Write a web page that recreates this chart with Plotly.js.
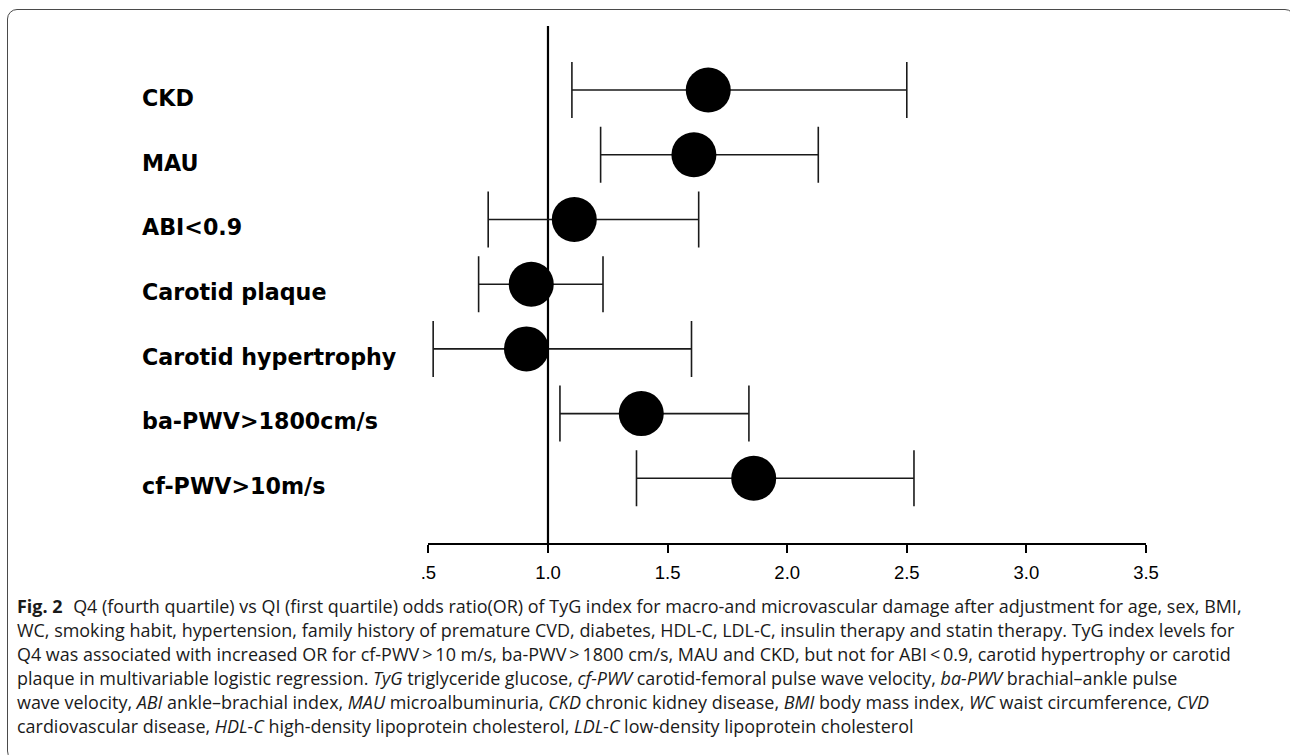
<!DOCTYPE html>
<html>
<head>
<meta charset="utf-8">
<script src="https://cdn.plot.ly/plotly-3.0.1.min.js"></script>
<style>
  html, body { margin: 0; padding: 0; background: #fff; }
  #wrap { position: relative; width: 1290px; height: 755px; overflow: hidden; }
  #chart { position: absolute; left: 0; top: 0; width: 1290px; height: 755px; }
  #frame { position: absolute; left: 7px; top: 9px; width: 1288px; height: 752px;
           border: 1.5px solid #4a4a4a; border-radius: 10px; box-sizing: border-box; pointer-events: none; }
  #caption { position: absolute; left: 17px; top: 594px; font-family: "Open Sans", Lato, sans-serif;
             font-size: 17.95px; line-height: 24px; color: #1a1a1a; white-space: nowrap; }
  #caption b { font-weight: 700; margin-right: 6px; }
</style>
</head>
<body>
<div id="wrap">
  <div id="chart"></div>
  <div id="frame"></div>
  <div id="caption">
    <b>Fig. 2</b> Q4 (fourth quartile) vs QI (first quartile) odds ratio(OR) of TyG index for macro-and microvascular damage after adjustment for age, sex, BMI,<br>
    WC, smoking habit, hypertension, family history of premature CVD, diabetes, HDL-C, LDL-C, insulin therapy and statin therapy. TyG index levels for<br>
    Q4 was associated with increased OR for cf-PWV&#8201;&gt;&#8201;10 m/s, ba-PWV&#8201;&gt;&#8201;1800 cm/s, MAU and CKD, but not for ABI&#8201;&lt;&#8201;0.9, carotid hypertrophy or carotid<br>
    plaque in multivariable logistic regression. <i>TyG</i> triglyceride glucose, <i>cf-PWV</i> carotid-femoral pulse wave velocity, <i>ba-PWV</i> brachial–ankle pulse<br>
    wave velocity, <i>ABI</i> ankle–brachial index, <i>MAU</i> microalbuminuria, <i>CKD</i> chronic kidney disease, <i>BMI</i> body mass index, <i>WC</i> waist circumference, <i>CVD</i><br>
    cardiovascular disease, <i>HDL-C</i> high-density lipoprotein cholesterol, <i>LDL-C</i> low-density lipoprotein cholesterol
  </div>
</div>
<script>
// Outcomes, top to bottom
const categories = ["CKD", "MAU", "ABI<0.9", "Carotid plaque", "Carotid hypertrophy", "ba-PWV>1800cm/s", "cf-PWV>10m/s"];
const oddsRatio = [1.67, 1.61, 1.11, 0.93, 0.91, 1.39, 1.86];
const ciLower  = [1.10, 1.22, 0.75, 0.71, 0.52, 1.05, 1.37];
const ciUpper  = [2.50, 2.13, 1.63, 1.23, 1.60, 1.84, 2.53];
const xTickVals = [0.5, 1.0, 1.5, 2.0, 2.5, 3.0, 3.5];
const xTickText = [".5", "1.0", "1.5", "2.0", "2.5", "3.0", "3.5"];
const referenceOR = 1.0;

const errPlus = oddsRatio.map((v, i) => ciUpper[i] - v);
const errMinus = oddsRatio.map((v, i) => v - ciLower[i]);

const W = 1290, H = 755;
const mL = 138, mR = 144.3, mT = 26.3, mB = 212.4;
const pw = W - mL - mR;
const xStart = (428.3 - mL) / pw;

const trace = {
  type: "scatter",
  mode: "markers",
  x: oddsRatio,
  y: categories,
  marker: { symbol: "circle", size: 45, color: "#000" },
  error_x: {
    type: "data", symmetric: false,
    array: errPlus, arrayminus: errMinus,
    color: "#1a1a1a", thickness: 1.6, width: 28
  },
  hoverinfo: "skip",
  showlegend: false
};

const layout = {
  width: W, height: H,
  margin: { l: mL, r: mR, t: mT, b: mB, pad: 0 },
  paper_bgcolor: "rgba(0,0,0,0)",
  plot_bgcolor: "rgba(0,0,0,0)",
  showlegend: false,
  xaxis: {
    domain: [xStart, 1],
    range: [0.5, 3.5],
    tickmode: "array", tickvals: xTickVals, ticktext: xTickText,
    showgrid: false, zeroline: false,
    showline: true, linecolor: "#000", linewidth: 2,
    ticks: "outside", ticklen: 8, tickwidth: 2, tickcolor: "#000",
    ticklabelstandoff: 4,
    tickfont: { family: "Liberation Sans, Arial, sans-serif", size: 18.5, color: "#000" },
    fixedrange: true
  },
  yaxis: {
    type: "category",
    categoryorder: "array",
    categoryarray: categories.slice().reverse(),
    range: [-1, 6.99],
    anchor: "free", position: 0,
    showgrid: false, zeroline: false, showline: false,
    ticks: "", ticklabelposition: "inside",
    ticklabelshift: 8,
    tickfont: { family: "DejaVu Sans, Noto Sans, sans-serif", size: 22.2, color: "#000", weight: "bold" },
    fixedrange: true
  },
  shapes: [{
    type: "line", xref: "x", yref: "paper",
    x0: referenceOR, x1: referenceOR, y0: 0, y1: 1,
    line: { color: "#000", width: 2.2 },
    layer: "below"
  }]
};

Plotly.newPlot("chart", [trace], layout, { staticPlot: true, displayModeBar: false });
</script>
</body>
</html>
